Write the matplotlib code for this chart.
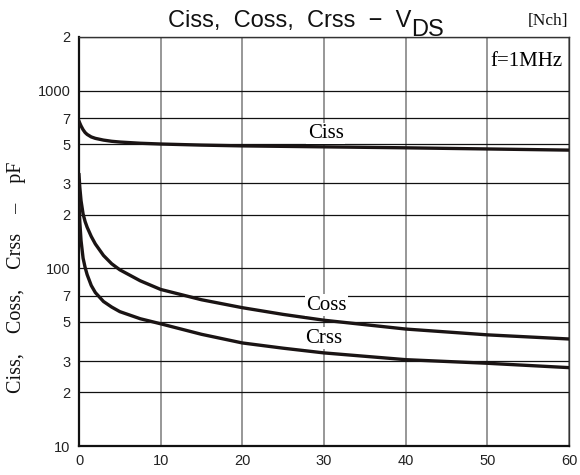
import numpy as np
import matplotlib.pyplot as plt
from matplotlib.ticker import NullLocator

# capacitance vs drain-source voltage (pF), read at these VDS points
vds = [0, 0.1, 0.25, 0.5, 0.75, 1, 1.5, 2, 3, 4, 5, 7.5, 10, 15, 20, 25, 30, 40, 50, 60]
ciss = [672, 655, 632, 602, 580, 566, 548, 538, 526, 518, 513, 505, 500, 493, 488, 485, 482, 476, 469, 462]
coss = [336, 285, 240, 202, 183, 170, 151, 137, 118, 106, 98, 85, 76, 66.5, 60, 55, 51, 45.5, 42.2, 40]
crss = [232, 182, 143, 114, 101, 92, 80, 73, 65, 60.5, 57, 52, 48.7, 42.5, 38, 35.5, 33.4, 30.6, 29.2, 27.6]

ytick_vals = [10, 20, 30, 50, 70, 100, 200, 300, 500, 700, 1000, 2000]
ytick_text = ['10', '2', '3', '5', '7', '100', '2', '3', '5', '7', '1000', '2']
xtick_vals = [0, 10, 20, 30, 40, 50, 60]

sans = 'Liberation Sans'
serif = 'Liberation Serif'

fig = plt.figure(figsize=(5.8, 4.75), dpi=100)
ax = fig.add_axes([79/580, 29/475, 490/580, 409/475])

ax.set_yscale('log')
ax.set_xlim(0, 60)
ax.set_ylim(10, 2000)
ax.set_yticks(ytick_vals, ytick_text)
ax.yaxis.set_minor_locator(NullLocator())
ax.set_xticks(xtick_vals)
ax.tick_params(length=0, labelsize=10.5, pad=6)
for lab in ax.get_xticklabels() + ax.get_yticklabels():
    lab.set_fontfamily(sans)
    lab.set_color('#222222')

ax.grid(axis='y', color='#111111', lw=0.9)
ax.grid(axis='x', color='#7a7a7a', lw=1.1)
ax.set_axisbelow(True)
for side in ['left', 'bottom']:
    ax.spines[side].set_linewidth(1.6)
    ax.spines[side].set_color('#111111')
for side in ['top', 'right']:
    ax.spines[side].set_linewidth(1.0)
    ax.spines[side].set_color('#333333')

for c in [ciss, coss, crss]:
    ax.plot(vds, c, color='#1a1414', lw=2.4, solid_joinstyle='round', zorder=3)

box = dict(facecolor='white', edgecolor='none', pad=1.0)
ax.text(30.2, 573, 'Ciss', fontfamily=serif, fontsize=15, ha='center', va='center', bbox=box, zorder=4)
ax.text(30.3, 62, 'Coss', fontfamily=serif, fontsize=15, ha='center', va='center', bbox=box, zorder=4)
ax.text(30.0, 40.5, 'Crss', fontfamily=serif, fontsize=15, ha='center', va='center', bbox=box, zorder=4)
ax.text(59.2, 1450, 'f=1MHz', fontfamily=serif, fontsize=15, ha='right', va='center', bbox=box, zorder=4)

# y label placed on the figure so it sits near the left edge
fig.text(17/580, 1 - 277/475, 'Ciss,    Coss,    Crss    –    pF', fontfamily=serif, fontsize=14.5,
         rotation=90, ha='center', va='center', color='#111111')

# title with the DS lowered after the V
t1 = fig.text(168/580, 1 - 27.5/475, 'Ciss,  Coss,  Crss  \u2212  V', fontfamily=sans,
              fontsize=17, ha='left', va='baseline', color='#111111')
fig.canvas.draw()
bb = t1.get_window_extent()
fig.text(bb.x1/580, 1 - 35.5/475, 'DS', fontfamily=sans, fontsize=17,
         ha='left', va='baseline', color='#111111')
fig.text(568/580, 1 - 25/475, '[Nch]', fontfamily=serif, fontsize=12.5,
         ha='right', va='baseline', color='#111111')

fig.savefig('out.png', dpi=100)
